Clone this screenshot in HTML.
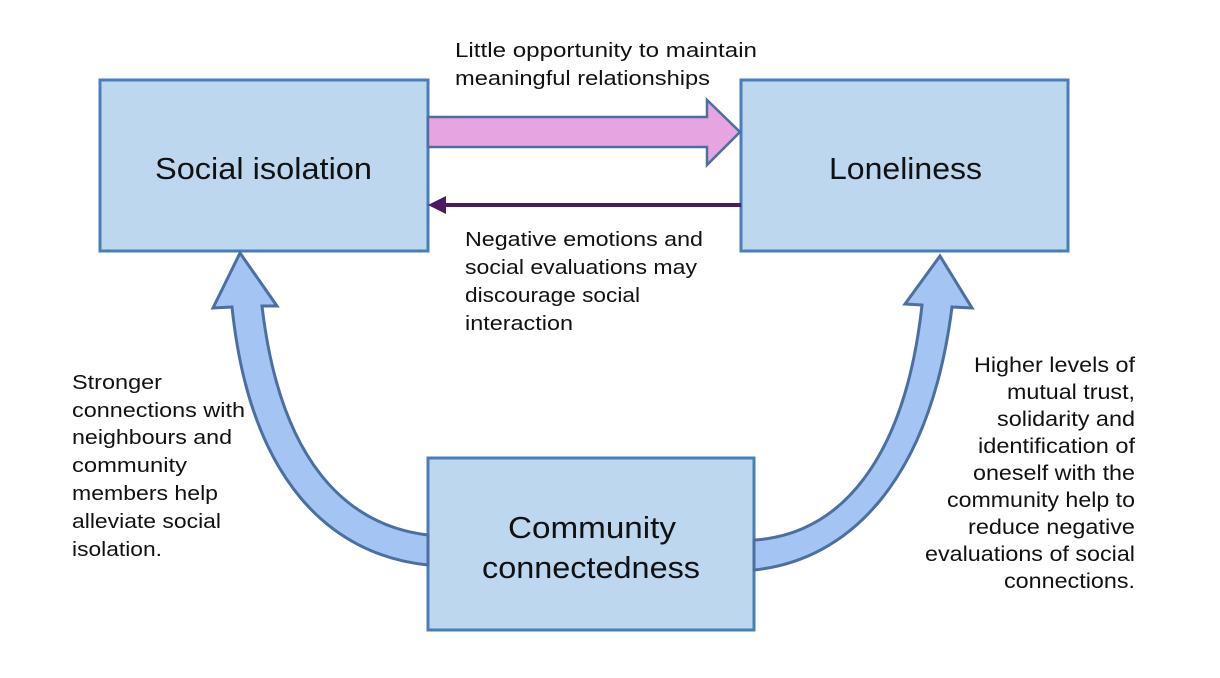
<!DOCTYPE html>
<html><head><meta charset="utf-8"><style>
body{margin:0;background:#fff;width:1220px;height:678px;overflow:hidden}
svg{display:block}
text{font-family:"Liberation Sans",sans-serif;fill:#111}
</style></head><body>
<svg width="1220" height="678" viewBox="0 0 1220 678">
<rect x="100" y="80" width="328" height="171" fill="#bdd7ee" stroke="#4a7ebb" stroke-width="3"/>
<rect x="741" y="80" width="327" height="171" fill="#bdd7ee" stroke="#4a7ebb" stroke-width="3"/>
<rect x="428" y="458" width="326" height="172" fill="#bdd7ee" stroke="#4a7ebb" stroke-width="3"/>
<g font-size="31">
<text x="155" y="179" textLength="217" lengthAdjust="spacingAndGlyphs">Social isolation</text>
<text x="829" y="179" textLength="153" lengthAdjust="spacingAndGlyphs">Loneliness</text>
<text x="508" y="538" textLength="168" lengthAdjust="spacingAndGlyphs">Community</text>
<text x="482" y="578" textLength="218" lengthAdjust="spacingAndGlyphs">connectedness</text>
</g>
<path d="M428,117 L707,117 L707,100 L740,132 L707,165 L707,147 L428,147 Z" fill="#e6a4e0" stroke="#4a6fa0" stroke-width="2.5"/>
<line x1="741" y1="205" x2="440" y2="205" stroke="#4b1a60" stroke-width="4"/>
<path d="M428,205 L446,196 L446,214 Z" fill="#4b1a60"/>
<path d="M428,565 C330,555 250,480 232,307 L213,308 L240,253 L277,306 L262,306 C280,460 345,525 428,535 Z" fill="#a4c5f4" stroke="#4a6fa0" stroke-width="3"/>
<path d="M754,570 C850,560 930,480 952,307 L972,308 L940,256 L905,304 L922,305 C905,460 840,535 754,540 Z" fill="#a4c5f4" stroke="#4a6fa0" stroke-width="3"/>
<g font-size="20">
<text x="455" y="57" textLength="302" lengthAdjust="spacingAndGlyphs">Little opportunity to maintain</text>
<text x="455" y="85" textLength="255" lengthAdjust="spacingAndGlyphs">meaningful relationships</text>
<text x="465" y="246" textLength="238" lengthAdjust="spacingAndGlyphs">Negative emotions and</text>
<text x="465" y="274" textLength="232" lengthAdjust="spacingAndGlyphs">social evaluations may</text>
<text x="465" y="302" textLength="175" lengthAdjust="spacingAndGlyphs">discourage social</text>
<text x="465" y="330" textLength="108" lengthAdjust="spacingAndGlyphs">interaction</text>
</g>
<g font-size="20">
<text x="72" y="389" textLength="90" lengthAdjust="spacingAndGlyphs">Stronger</text>
<text x="72" y="417" textLength="173" lengthAdjust="spacingAndGlyphs">connections with</text>
<text x="72" y="444" textLength="160" lengthAdjust="spacingAndGlyphs">neighbours and</text>
<text x="72" y="472" textLength="115" lengthAdjust="spacingAndGlyphs">community</text>
<text x="72" y="500" textLength="146" lengthAdjust="spacingAndGlyphs">members help</text>
<text x="72" y="528" textLength="149" lengthAdjust="spacingAndGlyphs">alleviate social</text>
<text x="72" y="556" textLength="90" lengthAdjust="spacingAndGlyphs">isolation.</text>
</g>
<g font-size="21">
<text x="974" y="372" textLength="161" lengthAdjust="spacingAndGlyphs">Higher levels of</text>
<text x="1007" y="399" textLength="128" lengthAdjust="spacingAndGlyphs">mutual trust,</text>
<text x="997" y="426" textLength="138" lengthAdjust="spacingAndGlyphs">solidarity and</text>
<text x="978" y="453" textLength="157" lengthAdjust="spacingAndGlyphs">identification of</text>
<text x="973" y="480" textLength="162" lengthAdjust="spacingAndGlyphs">oneself with the</text>
<text x="947" y="507" textLength="188" lengthAdjust="spacingAndGlyphs">community help to</text>
<text x="968" y="534" textLength="167" lengthAdjust="spacingAndGlyphs">reduce negative</text>
<text x="925" y="561" textLength="210" lengthAdjust="spacingAndGlyphs">evaluations of social</text>
<text x="1004" y="588" textLength="131" lengthAdjust="spacingAndGlyphs">connections.</text>
</g>
</svg>
</body></html>
